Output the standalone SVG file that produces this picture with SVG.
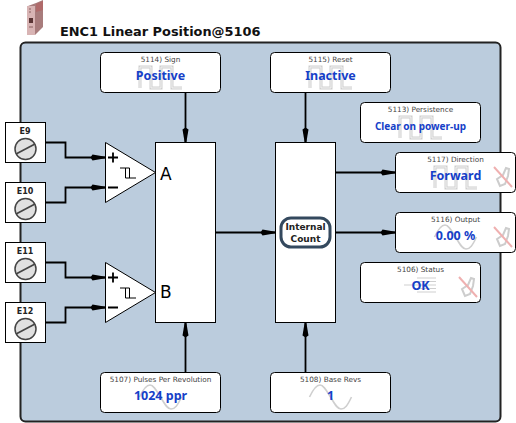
<svg xmlns="http://www.w3.org/2000/svg" width="516" height="423" viewBox="0 0 516 423">
<style>
text{font-family:"DejaVu Sans",sans-serif}
.box{fill:#fff;stroke:#000;stroke-width:1}
.lbl{font-size:7.3px;fill:#444;text-anchor:middle}
.val{font-family:"Noto Sans",sans-serif;font-size:12.500px;font-weight:bold;fill:#1540c8;text-anchor:middle}
.term{font-size:8px;font-weight:bold;fill:#222;text-anchor:middle}
.wm{fill:none;stroke:#cfcfcf;stroke-width:3}
.wmc{fill:none;stroke:#f4f4f4;stroke-width:1}
.sinew{fill:none;stroke:#cfcfcf;stroke-width:1.6}
.wire{fill:none;stroke:#000;stroke-width:1.8}
.screw{fill:#e0e0e0;stroke:#444;stroke-width:1.5}
.slot{stroke:#444;stroke-width:1.6}
.sign{stroke:#000;stroke-width:1.8}
.pulse{fill:none;stroke:#000;stroke-width:1}
.cross{stroke:#efb0b0;stroke-width:2}
.pen{fill:none;stroke:#cdcdcd;stroke-width:2}
</style>
<defs>
<marker id="arr" markerUnits="userSpaceOnUse" markerWidth="16" markerHeight="8" refX="16" refY="4" orient="auto"><path d="M1 4L3 1 16 3.200V4.800L3 7z" fill="#000"/></marker>
<g id="sq"><path class="wm" d="M-20.500 35.500V14.500H-9.500V35.500H0.500V14.500H11.500V35.500H21.500"/><path class="wmc" d="M-20.500 35.500V14.500H-9.500V35.500H0.500V14.500H11.500V35.500H21.500"/></g>
<g id="sine"><path class="sinew" d="M-21 24.500C-17 16 -14 12.500 -10.500 12.500S-4 18 0 24.500S6.500 36.500 10.500 36.500S17 33 21 24.500"/></g>
<g id="nowrite"><path class="pen" d="M-3 9L-6 2 0 -2 3 -9 6 -8 5 -1 2 7z"/><path class="cross" d="M-9 -10L9 10"/></g>
<g id="screw"><circle class="screw" cx="0" cy="0" r="10.500"/><path class="slot" d="M-9.500 5L9.500 -5"/></g>
</defs>
<rect x="20.500" y="42.500" width="480" height="379" rx="5" fill="#bbccdd" stroke="#222" stroke-width="2"/>
<g id="device">
<path d="M28 6L36 3 43 0V27L35 35H28z" fill="#a87c7c"/>
<path d="M27 6H35V35H27z" fill="#d8b4b4"/>
<path d="M36 4L43 1V10L36 12z" fill="#b06a6a"/>
<rect x="29" y="18" width="4" height="5" fill="#5a3535"/>
<path d="M29 9H31M29 12H31M29 27H33" stroke="#8a6060"/>
</g>
<text x="60" y="36" font-size="12.900" font-weight="bold" fill="#111">ENC1 Linear Position@5106</text>
<g id="connectors">
<path class="wire" d="M45.500 142.500H65.500V157.500H105.500" marker-end="url(#arr)"/>
<path class="wire" d="M45.500 202.500H65.500V187.500H105.500" marker-end="url(#arr)"/>
<path class="wire" d="M45.500 262.500H65.500V277.500H105.500" marker-end="url(#arr)"/>
<path class="wire" d="M45.500 322.500H65.500V307.500H105.500" marker-end="url(#arr)"/>
<path class="wire" d="M185.500 92.500V142.500" marker-end="url(#arr)"/>
<path class="wire" d="M305.500 92.500V142.500" marker-end="url(#arr)"/>
<path class="wire" d="M185.500 372.500V322.500" marker-end="url(#arr)"/>
<path class="wire" d="M305.500 372.500V322.500" marker-end="url(#arr)"/>
<path class="wire" d="M215.500 232.500H275.500" marker-end="url(#arr)"/>
<path class="wire" d="M335.500 172.500H395.500" marker-end="url(#arr)"/>
<path class="wire" d="M335.500 232.500H395.500" marker-end="url(#arr)"/>
</g>
<g id="block-ab"><rect class="box" x="155.500" y="142.500" width="60" height="180"/>
<text x="160" y="180" font-size="17" fill="#000">A</text><text x="160" y="298" font-size="17" fill="#000">B</text></g>
<g id="block-count"><rect class="box" x="275.500" y="142.500" width="60" height="180"/>
<rect x="281" y="218" width="49" height="29" rx="10" fill="#fff" stroke="#34495e" stroke-width="3"/>
<text x="305.500" y="230" class="term" style="font-size:9px">Internal</text><text x="305.500" y="241.500" class="term" style="font-size:9px">Count</text></g>
<g id="comp-a"><path class="box" d="M105.500 142.500V202.500L155.500 172.500z"/>
<path class="sign" d="M108 157.500H118M113 152.500V162.500M108 187.500H118"/><path class="pulse" d="M120 168H129.500V178M125.500 168V178H136"/></g>
<g id="comp-b"><path class="box" d="M105.500 262.500V322.500L155.500 292.500z"/>
<path class="sign" d="M108 277.500H118M113 272.500V282.500M108 307.500H118"/><path class="pulse" d="M120 288H129.500V298M125.500 288V298H136"/></g>
<g id="e9"><rect class="box" x="5.500" y="122.500" width="40" height="40"/><text class="term" x="25" y="134">E9</text><use href="#screw" x="25.500" y="149"/></g>
<g id="e10"><rect class="box" x="5.500" y="182.500" width="40" height="40"/><text class="term" x="25" y="194">E10</text><use href="#screw" x="25.500" y="209"/></g>
<g id="e11"><rect class="box" x="5.500" y="242.500" width="40" height="40"/><text class="term" x="25" y="254">E11</text><use href="#screw" x="25.500" y="269"/></g>
<g id="e12"><rect class="box" x="5.500" y="302.500" width="40" height="40"/><text class="term" x="25" y="314">E12</text><use href="#screw" x="25.500" y="329"/></g>
<g id="n5114"><rect class="box" x="100.500" y="52.500" width="120" height="40" rx="4"/><use href="#sq" x="160.500" y="52.500"/><text class="lbl" x="160.500" y="62">5114) Sign</text><text class="val" x="160.500" y="80">Positive</text></g>
<g id="n5115"><rect class="box" x="270.500" y="52.500" width="120" height="40" rx="4"/><use href="#sq" x="330.500" y="52.500"/><text class="lbl" x="330.500" y="62">5115) Reset</text><text class="val" x="330.500" y="80">Inactive</text></g>
<g id="n5113"><rect class="box" x="360.500" y="102.500" width="120" height="40" rx="4"/><use href="#sq" x="420.500" y="102.500"/><text class="lbl" x="420.500" y="112">5113) Persistence</text><text class="val" x="420.500" y="130" style="font-size:10px">Clear on power-up</text></g>
<g id="n5117"><rect class="box" x="395.500" y="152.500" width="120" height="40" rx="4"/><use href="#sq" x="455.500" y="152.500"/><use href="#nowrite" x="503" y="177"/><text class="lbl" x="455.500" y="162">5117) Direction</text><text class="val" x="455.500" y="180">Forward</text></g>
<g id="n5116"><rect class="box" x="395.500" y="212.500" width="120" height="40" rx="4"/><use href="#sine" x="455.500" y="212.500"/><use href="#nowrite" x="503" y="237"/><text class="lbl" x="455.500" y="222">5116) Output</text><text class="val" x="455.500" y="240">0.00 %</text></g>
<g id="n5106"><rect class="box" x="360.500" y="262.500" width="120" height="40" rx="4"/><path d="M404 285H417M417 278H436M417 281.500H436M417 285H436M417 288.500H436M417 292H436" fill="none" stroke="#cfcfcf" stroke-width="1"/><use href="#nowrite" x="468" y="287"/><text class="lbl" x="420.500" y="272">5106) Status</text><text class="val" x="420.500" y="290">OK</text></g>
<g id="n5107"><rect class="box" x="100.500" y="372.500" width="120" height="40" rx="4"/><use href="#sine" x="160.500" y="372.500"/><text class="lbl" x="160.500" y="382">5107) Pulses Per Revolution</text><text class="val" x="160.500" y="400">1024 ppr</text></g>
<g id="n5108"><rect class="box" x="270.500" y="372.500" width="120" height="40" rx="4"/><use href="#sine" x="330.500" y="372.500"/><text class="lbl" x="330.500" y="382">5108) Base Revs</text><text class="val" x="330.500" y="400">1</text></g>
</svg>
